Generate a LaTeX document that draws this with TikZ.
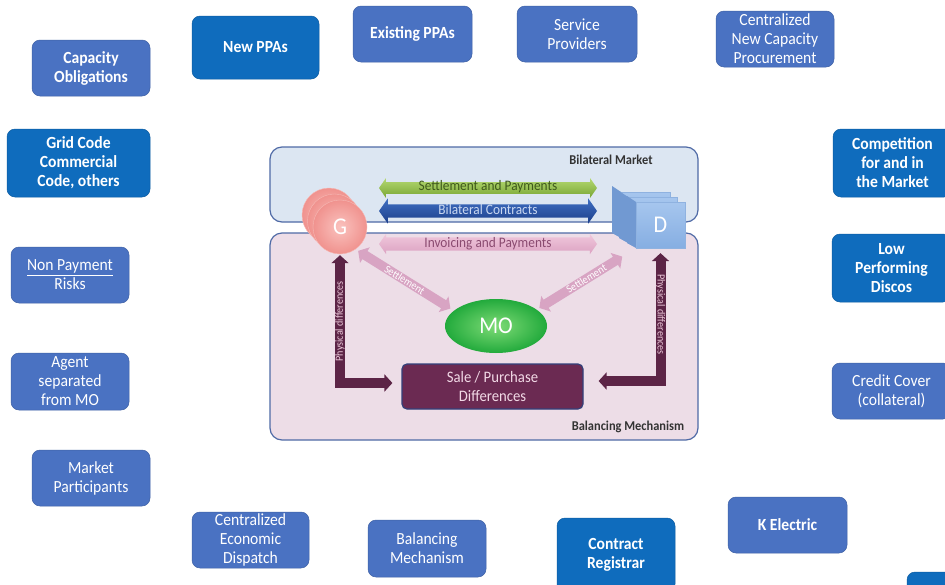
\documentclass[tikz,border=0pt]{standalone}
\usepackage{fontspec}
\setmainfont{Carlito}[FakeStretch=0.92]
\usetikzlibrary{shapes.geometric,shapes.arrows,arrows.meta,calc}

\definecolor{boxmid}{HTML}{4A72C2}
\definecolor{boxdark}{HTML}{0F6CBD}
\definecolor{bilfill}{HTML}{DCE6F2}
\definecolor{balfill}{HTML}{EDDDE7}
\definecolor{framedraw}{HTML}{4F6AA6}
\definecolor{plum}{HTML}{6B2A52}
\definecolor{plumedge}{HTML}{33407A}
\definecolor{plumtext}{HTML}{F2D9E6}
\definecolor{plumarrow}{HTML}{5C2446}
\definecolor{phystext}{HTML}{ECC9DA}
\definecolor{diagpink}{HTML}{D8A4C3}
\definecolor{gin}{HTML}{FAC2BE}
\definecolor{gout}{HTML}{F0928E}
\definecolor{gedge}{HTML}{F6B9B5}
\definecolor{dtop}{HTML}{A6C6EE}
\definecolor{dbot}{HTML}{86AEE2}
\definecolor{dedge}{HTML}{8FB2E0}
\definecolor{dsidecol}{HTML}{7199D2}
\definecolor{greentop}{HTML}{B4D872}
\definecolor{greenbot}{HTML}{78A633}
\definecolor{greentext}{HTML}{3F5A1C}
\definecolor{bluetop}{HTML}{3F6FC2}
\definecolor{bluebot}{HTML}{1B3E8A}
\definecolor{bluetext}{HTML}{C8D7F1}
\definecolor{pinktop}{HTML}{F0C8DC}
\definecolor{pinkbot}{HTML}{DCA2C2}
\definecolor{pinktext}{HTML}{8A4A70}
\definecolor{moin}{HTML}{7EDB76}
\definecolor{moout}{HTML}{22AA3C}

\begin{document}
\begin{tikzpicture}[x=1pt,y=-1pt,
  outer/.style={rectangle, rounded corners=8pt, draw=#1!85!black, fill=#1,
    line width=0.5pt, text=white, align=center, inner sep=0pt},
  midbox/.style={outer=boxmid, font=\fontsize{17}{19}\selectfont},
  midboxb/.style={outer=boxmid, font=\fontsize{17}{19}\selectfont\bfseries},
  darkbox/.style={outer=boxdark, font=\fontsize{17}{19}\selectfont\bfseries},
  frame/.style={rectangle, rounded corners=12pt, draw=framedraw, line width=1.2pt},
  framelabel/.style={font=\fontsize{13.5}{14}\selectfont\bfseries, text=black!80},
  harrow/.style={double arrow, minimum height=218, inner xsep=0pt, inner ysep=0.5pt,
    double arrow tip angle=110, font=\fontsize{14.5}{14.5}\selectfont},
  gcirc/.style={circle, minimum size=54, inner sep=0pt, draw=gedge, line width=0.4pt,
    inner color=gin, outer color=gout},
  dface/.style={rectangle, minimum width=49, minimum height=46, inner sep=0pt,
    top color=dtop, bottom color=dbot, draw=dedge, line width=0.3pt},
  dside/.style={fill=dsidecol},
  fatline/.style={line width=10pt, color=plumarrow, line join=miter,
    arrows={Triangle[width=17pt,length=8pt]-Triangle[width=17pt,length=8pt]}},
  diagline/.style={line width=9.5pt, color=diagpink,
    arrows={Triangle[width=18pt,length=8pt]-Triangle[width=18pt,length=8pt]}},
  smalltext/.style={font=\fontsize{11}{11}\selectfont, inner sep=0pt},
]

\useasboundingbox (0,0) rectangle (945,584);
\fill[white] (0,0) rectangle (945,584);

% ---------- surrounding topic boxes ----------
\node[midboxb, minimum width=118, minimum height=56] (cap) at (91,68) {Capacity\\Obligations};
\node[darkbox, minimum width=127, minimum height=63] (newppa) at (255.5,47.5) {New PPAs};
\node[midboxb, minimum width=119, minimum height=56] (exppa) at (412.5,34) {Existing PPAs};
\node[midbox, minimum width=120, minimum height=56] (serv) at (577,34) {Service\\Providers};
\node[midbox, minimum width=118, minimum height=56] (cncp) at (775,39) {Centralized\\New Capacity\\Procurement};
\node[darkbox, minimum width=143, minimum height=68] (grid) at (78.5,163) {Grid Code\\Commercial\\Code, others};
\node[darkbox, minimum width=119, minimum height=68] (comp) at (892.5,163) {Competition\\for and in\\the Market};
\node[midbox, minimum width=118, minimum height=56] (nonpay) at (70,275) {\underline{Non Payment}\\Risks};
\node[darkbox, minimum width=119, minimum height=68] (lowp) at (891.5,268) {Low\\Performing\\Discos};
\node[midbox, minimum width=118, minimum height=57] (agent) at (70,381.5) {Agent\\separated\\from MO};
\node[midbox, minimum width=119, minimum height=56] (credit) at (891.5,391) {Credit Cover\\(collateral)};
\node[midbox, minimum width=118, minimum height=56] (mpart) at (91,478) {Market\\Participants};
\node[midbox, minimum width=117, minimum height=56] (ced) at (250.5,540) {Centralized\\Economic\\Dispatch};
\node[midbox, minimum width=118, minimum height=57] (bmech) at (427,548.5) {Balancing\\Mechanism};
\node[darkbox, minimum width=118, minimum height=74] (creg) at (616,555) {Contract\\Registrar};
\node[midboxb, minimum width=119, minimum height=56] (kel) at (787.5,525) {K Electric};
\node[outer=boxdark, minimum width=60, minimum height=28] (corner) at (937,586) {};

% ---------- market frames ----------
\node[frame, fill=bilfill, minimum width=428, minimum height=75] (bil) at (484,184.5) {};
\node[frame, fill=balfill, minimum width=428, minimum height=207] (bal) at (484,336.5) {};
\node[framelabel] (billab) at (611,160) {Bilateral Market};
\node[framelabel] (ballab) at (628,427) {Balancing Mechanism};

% ---------- bilateral flows ----------
\node[harrow, double arrow head extend=4pt, text height=8pt, text depth=2.5pt,
  top color=greentop, bottom color=greenbot, text=greentext] (setpay) at (488,188)
  {Settlement and Payments};
\node[harrow, double arrow head extend=6pt, text height=9pt, text depth=3pt,
  top color=bluetop, bottom color=bluebot, text=bluetext] (bicon) at (488,211)
  {Bilateral Contracts};
\node[harrow, double arrow head extend=3.5pt, text height=9pt, text depth=3pt,
  top color=pinktop, bottom color=pinkbot, text=pinktext] (invpay) at (488,244)
  {Invoicing and Payments};

% ---------- generators ----------
\node[gcirc] (G3) at (329,215) {};
\node[gcirc] (G2) at (334.5,221) {};
\node[gcirc, text=white, font=\fontsize{24}{24}\selectfont] (G) at (340,227) {G};

% ---------- distribution companies ----------
\foreach \dx/\dy/\nm in {-15/-10/D3, -8/-5/D2, 0/0/D} {
  \fill[dside] (627+\dx,196+\dy) -- (636+\dx,202+\dy) -- (636+\dx,248+\dy) -- (627+\dx,243+\dy) -- cycle;
  \node[dface] (\nm) at (660.5+\dx,225+\dy) {};
}
\node[text=white, font=\fontsize{24}{24}\selectfont] (Dlab) at (D) {D};

% ---------- market operator and balancing ----------
\node[ellipse, minimum width=102, minimum height=54, inner sep=0pt,
  inner color=moin, outer color=moout, text=white,
  font=\fontsize{24}{24}\selectfont] (MO) at (496,326) {MO};
\node[rectangle, rounded corners=5pt, fill=plum, draw=plumedge, line width=1.2pt,
  minimum width=181, minimum height=45, inner sep=0pt, align=center, text=plumtext,
  font=\fontsize{16}{19}\selectfont] (sale) at (492.5,386.5) {Sale / Purchase\\Differences};

% ---------- physical differences ----------
\draw[fatline, shorten <=9pt, shorten >=1pt] ([yshift=3.5pt]sale.west) -| (G.south)
  node[pos=0.74, rotate=90, text=phystext, smalltext] {Physical differences};
\draw[fatline, shorten <=5pt, shorten >=15pt] (D.south) |- ([yshift=5.5pt]sale.east)
  node[pos=0.25, rotate=-90, text=phystext, smalltext] {Physical differences};

% ---------- settlement with the market operator ----------
\draw[diagline, shorten <=3pt, shorten >=4pt] (G.-55) -- (MO.160)
  node[midway, sloped, text=white, smalltext] {Settlement};
\draw[diagline, shorten <=3pt, shorten >=16pt] (MO.22) -- (D.south west)
  node[midway, sloped, text=white, smalltext] {Settlement};
\end{tikzpicture}
\end{document}
